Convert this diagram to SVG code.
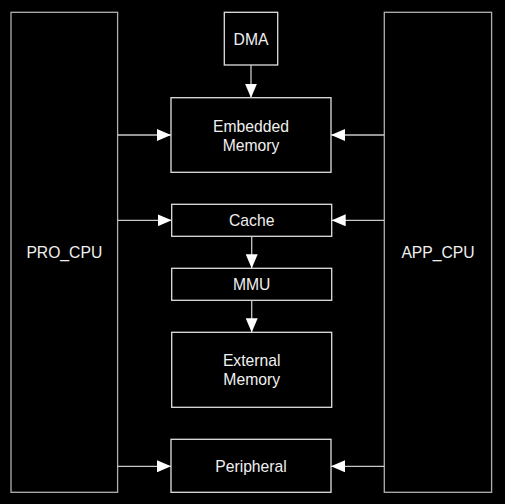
<svg xmlns="http://www.w3.org/2000/svg" width="505" height="504" viewBox="0 0 505 504">
<defs>
<marker id="ah" markerWidth="14" markerHeight="12" refX="14" refY="6" orient="auto" markerUnits="userSpaceOnUse">
<path d="M0,0 L14,6 L0,12 Z" fill="#ffffff"/>
</marker>
<style>
.cpu{fill:#000;stroke:#b0b0b0;stroke-width:1.3}
.box{fill:#000;stroke:#e0e0e0;stroke-width:1.3}
.t{font-family:"Liberation Sans",Arial,Helvetica,sans-serif;font-size:15.7px;fill:#f0f0f0;text-anchor:middle}
.c{stroke:#c8c8c8;stroke-width:1.3;fill:none;marker-end:url(#ah)}
</style>
</defs>
<rect width="505" height="504" fill="#000"/>
<g id="pro_cpu"><rect class="cpu" x="11" y="12.3" width="106.6" height="480"/><text class="t" x="64.3" y="258.3">PRO_CPU</text></g>
<g id="app_cpu"><rect class="cpu" x="384.3" y="12.3" width="107.3" height="480"/><text class="t" x="438" y="258.3">APP_CPU</text></g>
<g id="dma"><rect class="box" x="224.3" y="12.3" width="53.4" height="52.7"/><text class="t" x="251" y="44.5">DMA</text></g>
<g id="embedded"><rect class="box" x="171" y="97.7" width="160" height="74.6"/><text class="t" x="251" y="132">Embedded</text><text class="t" x="251" y="151">Memory</text></g>
<g id="cache"><rect class="box" x="171.7" y="204.3" width="160" height="32"/><text class="t" x="251.7" y="226">Cache</text></g>
<g id="mmu"><rect class="box" x="171.7" y="268.3" width="160" height="32"/><text class="t" x="251.7" y="290">MMU</text></g>
<g id="external"><rect class="box" x="171.7" y="332.3" width="160" height="75"/><text class="t" x="251.7" y="366">External</text><text class="t" x="251.7" y="385">Memory</text></g>
<g id="peripheral"><rect class="box" x="171" y="439.3" width="160" height="53"/><text class="t" x="251" y="471.5">Peripheral</text></g>
<g id="connectors">
<line class="c" x1="251" y1="65" x2="251" y2="97.7"/>
<line class="c" x1="117.6" y1="135" x2="171" y2="135"/>
<line class="c" x1="384.3" y1="135" x2="331" y2="135"/>
<line class="c" x1="117.6" y1="220.3" x2="171.7" y2="220.3"/>
<line class="c" x1="384.3" y1="220.3" x2="331.7" y2="220.3"/>
<line class="c" x1="251.7" y1="236.3" x2="251.7" y2="268.3"/>
<line class="c" x1="251.7" y1="300.3" x2="251.7" y2="332.3"/>
<line class="c" x1="117.6" y1="466.3" x2="171" y2="466.3"/>
<line class="c" x1="384.3" y1="466.3" x2="331" y2="466.3"/>
</g>
</svg>
